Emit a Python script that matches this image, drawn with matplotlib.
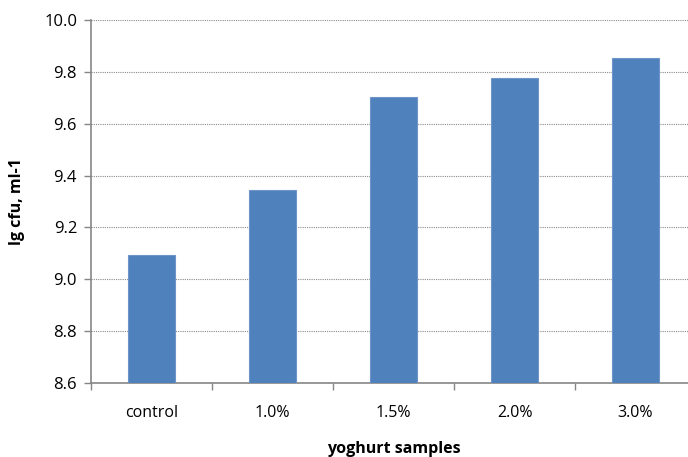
import matplotlib
matplotlib.use("Agg")
import matplotlib.pyplot as plt
import numpy as np

# data
samples = ["control", "1.0%", "1.5%", "2.0%", "3.0%"]
lg_cfu = [9.095, 9.345, 9.703, 9.775, 9.855]
y_ticks = [8.6, 8.8, 9.0, 9.2, 9.4, 9.6, 9.8, 10.0]

plt.rcParams["font.family"] = ["Open Sans", "DejaVu Sans"]

fig = plt.figure(figsize=(6.88, 4.57), dpi=100)
ax = fig.add_axes([91 / 688, 74 / 457, 605 / 688, 363 / 457])

x = np.arange(len(samples))
ax.bar(x, lg_cfu, width=0.39, color="#4f81bd", edgecolor="#6f95c8", linewidth=0.8, zorder=3)

ax.set_xlim(-0.5, len(samples) - 0.5)
ax.set_ylim(8.6, 10.0)
ax.set_yticks(y_ticks)
ax.set_yticklabels([f"{v:.1f}" for v in y_ticks], fontsize=12)

# category labels centred, tick marks on the category boundaries
ax.set_xticks(x)
ax.set_xticklabels(samples, fontsize=11.5)
ax.tick_params(axis="x", length=0, pad=16)
ax.set_xticks(np.arange(-0.5, len(samples)), minor=True)
ax.tick_params(axis="x", which="minor", length=5, color="#868686", width=1)
ax.tick_params(axis="y", length=5, color="#868686", width=1, pad=5)

ax.yaxis.grid(True, linestyle=(0, (1, 1)), color="#8a8a8a", linewidth=0.8, zorder=0)
for s in ["top", "right"]:
    ax.spines[s].set_visible(False)
for s in ["left", "bottom"]:
    ax.spines[s].set_color("#868686")
    ax.spines[s].set_linewidth(1.2)

ax.set_xlabel("yoghurt samples", fontsize=11.5, fontweight="bold", labelpad=14)
ax.set_ylabel("lg cfu, ml-1", fontsize=11.5, fontweight="bold", labelpad=14)

fig.savefig("out.png", dpi=100)
